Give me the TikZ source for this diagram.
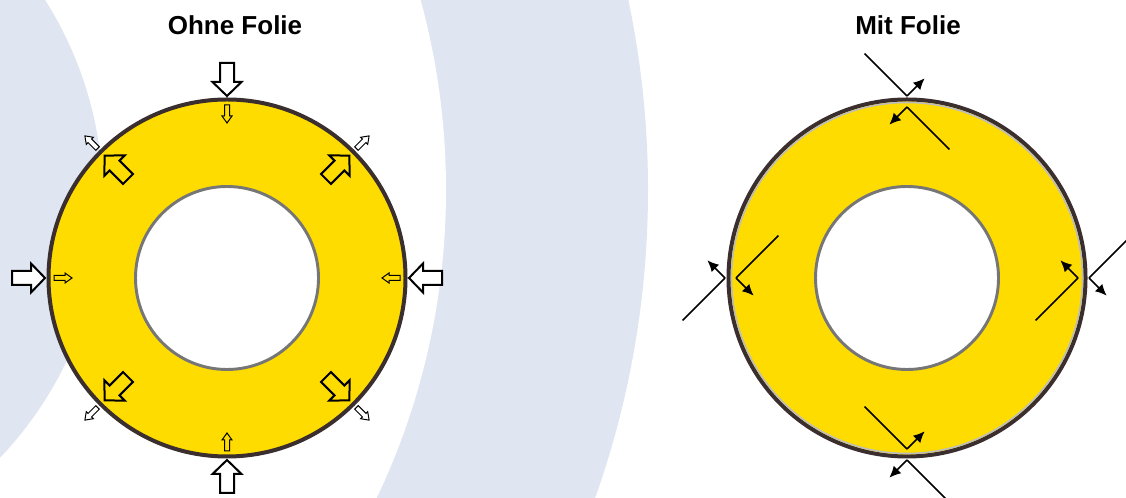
\documentclass[tikz,border=0pt]{standalone}
\usepackage{fontspec}
\setmainfont{Liberation Sans}
\usepackage{tikz}
\usetikzlibrary{arrows.meta,calc}
\definecolor{bgblue}{HTML}{DFE5F1}
\definecolor{ringyellow}{HTML}{FFDC00}
\definecolor{ringdark}{HTML}{3A2E2E}
\definecolor{holegrey}{HTML}{767676}
\definecolor{rimgrey}{HTML}{BDBDBD}
\tikzset{
  titletext/.style={font=\fontsize{19.5}{23}\selectfont\bfseries,inner sep=0pt},
  ringfill/.style={fill=ringyellow,draw=ringdark,line width=3pt},
  holefill/.style={fill=white,draw=holegrey,line width=2.2pt},
  bigline/.style={draw=black,line width=1.5pt},
  smallline/.style={draw=black,line width=0.75pt},
  pics/bigarr/.style={code={\path[bigline,fill=#1] (0,-7) -- (19,-7) -- (19,-14.5) -- (33,0) -- (19,14.5) -- (19,7) -- (0,7) -- cycle;}},
  pics/smallarr/.style={code={\path[smallline,fill=#1] (0,-2.5) -- (11,-2.5) -- (11,-5) -- (18,0) -- (11,5) -- (11,2.5) -- (0,2.5) -- cycle;}},
  rayline/.style={line width=1.2pt,black},
  rayarrow/.style={-{Latex[length=3mm,width=2.8mm]},line width=1.2pt,black}
}
\begin{document}
\begin{tikzpicture}[x=0.75pt,y=0.75pt]
\useasboundingbox (0,0) rectangle (1126,498);
\coordinate (L) at (227,220);
\coordinate (R) at (907,220);
\coordinate (B) at (-271,308);
\coordinate (C) at (-271,298);
% background bands
\begin{scope}
\clip (0,0) rectangle (1126,498);
\fill[bgblue] (B) circle[radius=919];
\fill[white] (B) circle[radius=717];
\fill[bgblue] (C) circle[radius=374];
\end{scope}
\node[titletext] (ohne) at (235,473) {Ohne Folie};
\node[titletext] (mit) at (908,473) {Mit Folie};
% left ring
\draw[ringfill] (L) circle[radius=178.5];
\draw[holefill] (L) circle[radius=91.5];
\foreach \a in {0,90,180,270}{
  \pic[rotate=\a+180] at ($(L)+(\a:215)$) {bigarr=white};
  \pic[rotate=\a+180] at ($(L)+(\a:173)$) {smallarr=none};
}
\foreach \a in {45,135,225,315}{
  \pic[rotate=\a] at ($(L)+(\a:140)$) {bigarr=none};
  \pic[rotate=\a] at ($(L)+(\a:183)$) {smallarr=white};
}
% right ring
\draw[ringfill] (R) circle[radius=178.5];
\draw[rimgrey,line width=1.2pt] (R) circle[radius=175.5];
\draw[holefill] (R) circle[radius=91.5];
\foreach \n in {0,90,180,270}{
  \coordinate (po\n) at ($(R)+(\n:182)$);
  \coordinate (pi\n) at ($(R)+(\n:171)$);
  \coordinate (lo\n) at ($(po\n)+({\n+45}:60)$);
  \coordinate (ao\n) at ($(po\n)+({\n-45}:25)$);
  \coordinate (li\n) at ($(pi\n)+({\n-135}:60)$);
  \coordinate (ai\n) at ($(pi\n)+({\n+135}:25)$);
  \draw[rayline] (lo\n) -- (po\n);
  \draw[rayarrow] (po\n) -- (ao\n);
  \draw[rayline] (li\n) -- (pi\n);
  \draw[rayarrow] (pi\n) -- (ai\n);
}
\end{tikzpicture}
\end{document}
